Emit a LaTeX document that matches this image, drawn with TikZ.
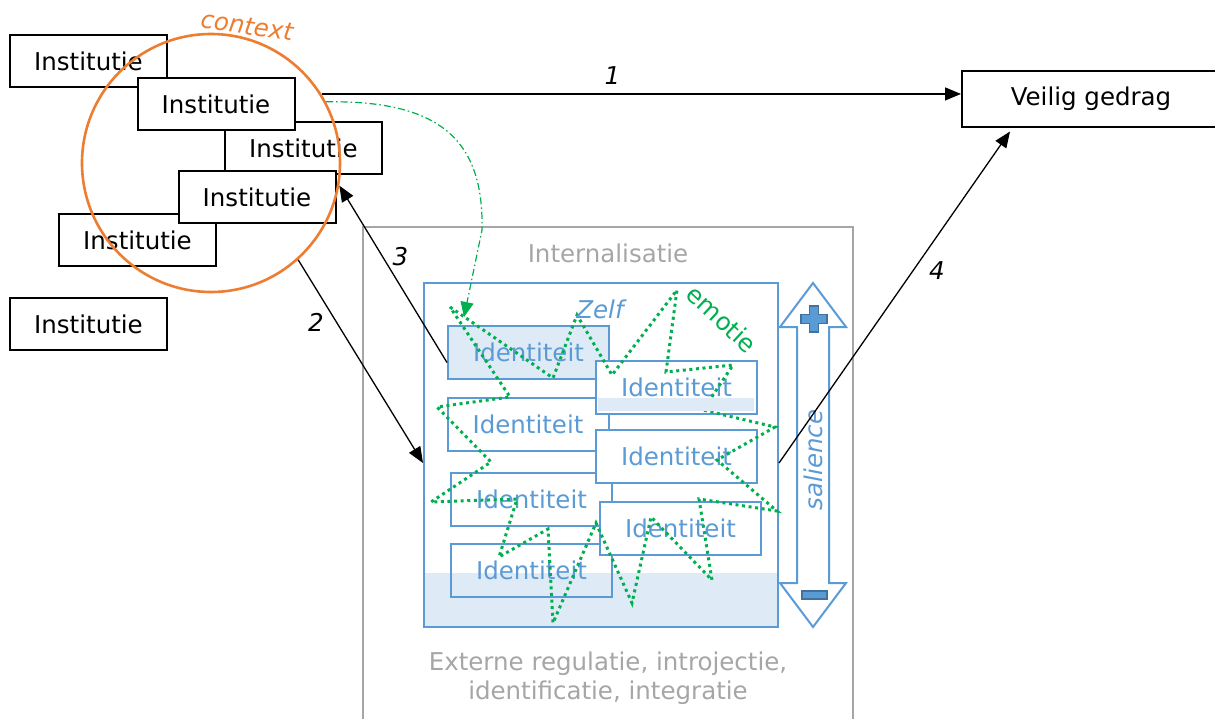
\documentclass[tikz,border=0pt]{standalone}
\usepackage{fontspec}
\setmainfont{DejaVu Sans}
\usetikzlibrary{arrows.meta,calc}

\definecolor{ctxorange}{HTML}{ED7D31}
\definecolor{idblue}{HTML}{5B9BD5}
\definecolor{idfill}{HTML}{DEEBF7}
\definecolor{emogreen}{HTML}{00B050}
\definecolor{intgray}{HTML}{A6A6A6}
\definecolor{signblue}{HTML}{41719C}

\newcommand{\figfont}{\fontsize{24.5}{29}\selectfont}

\tikzset{
  inst/.style={draw=black, line width=2pt, fill=white, minimum width=157pt,
    minimum height=52pt, inner sep=0pt, font=\figfont},
  ident/.style={draw=idblue, line width=2pt, fill=white, text=idblue,
    minimum width=161pt, minimum height=53pt, inner sep=0pt, font=\figfont},
  link/.style={line width=1.3pt, -{Triangle[length=16pt,width=13pt]}},
  emo/.style={emogreen, line width=3pt, dash pattern=on 3pt off 3.6pt},
  num/.style={font=\figfont\itshape},
}

\begin{document}
\begin{tikzpicture}[x=1pt,y=-1pt]
\useasboundingbox[fill=white] (0,0) rectangle (1215,718);

% internalisatie
\node[draw=intgray, line width=2pt, minimum width=490pt, minimum height=520pt,
  inner sep=0pt] (intern) at (608,487) {};
\node[text=intgray, font=\figfont] (internlbl) at (608,253) {Internalisatie};
\node[text=intgray, font=\figfont, align=center] (stages) at (608,678)
  {Externe regulatie, introjectie,\\identificatie, integratie};

% zelf
\fill[idfill] (424,573) rectangle (778,627);
\node[draw=idblue, line width=2pt, minimum width=354pt, minimum height=344pt,
  inner sep=0pt] (zelf) at (601,455) {};

\node[ident, fill=idfill] (id1) at (528.5,352.5) {Identiteit};
\node[ident] (id3) at (528,424.5) {Identiteit};
\node[ident] (id2) at (676.5,387.5) {Identiteit};
\node[ident] (id5) at (531.5,499) {Identiteit};
\node[ident] (id4) at (676.5,456) {Identiteit};
\node[ident, fill=none] (id7) at (531.5,570) {Identiteit};
\node[ident] (id6) at (680.5,528.5) {Identiteit};

% emotie
\draw[emo] (450,307) -- (553,378) -- (577,315) -- (612,375) -- (677,290)
  -- (666,372) -- (733,365) -- (703,410) -- (775,427) -- (717,460)
  -- (777,511) -- (699,499) -- (712,580) -- (651,517) -- (632,603)
  -- (596,523) -- (553,623) -- (548,529) -- (499,557) -- (517,499)
  -- (431,502) -- (491,462) -- (437,407) -- (510,397) -- cycle;
\fill[idfill] (598,398) rectangle (754,411);

\node[text=idblue, font=\figfont\itshape] (zelflbl) at (600,309) {Zelf};
\node[text=emogreen, font=\figfont, rotate=-43] (emolbl) at (722,319) {emotie};

% salience
\draw[idblue, line width=2pt, fill=white] (813,283) -- (846,327) -- (829,327)
  -- (829,583) -- (846,583) -- (813,627) -- (780,583) -- (797,583)
  -- (797,327) -- (780,327) -- cycle;
\draw[signblue, fill=idblue, line width=1.4pt] (809.5,306) -- (818.5,306)
  -- (818.5,314.5) -- (827,314.5) -- (827,323.5) -- (818.5,323.5)
  -- (818.5,332) -- (809.5,332) -- (809.5,323.5) -- (801,323.5)
  -- (801,314.5) -- (809.5,314.5) -- cycle;
\draw[signblue, fill=idblue, line width=1.4pt] (802,591) rectangle (827,599);
\node[text=idblue, font=\figfont\itshape, rotate=90] (sal) at (813,460) {salience};

% instituties
\node[inst] (inst1) at (88.5,61) {Institutie};
\node[inst] (inst3) at (303.5,148) {Institutie};
\node[inst] (inst2) at (216,104) {Institutie};
\node[inst] (inst5) at (137.5,240) {Institutie};
\node[inst] (inst4) at (257,197) {Institutie};
\node[inst] (inst6) at (88.5,324) {Institutie};

\node[inst, minimum width=258pt, minimum height=56pt] (veilig) at (1091,98.5) {Veilig gedrag};

% context
\node[circle, draw=ctxorange, line width=2.6pt, minimum size=258pt, inner sep=0pt]
  (context) at (211,163) {};
\node[text=ctxorange, font=\figfont\itshape, rotate=-8] (ctxlbl) at (247,26) {context};

\draw[emogreen, line width=1.2pt, dash pattern=on 7pt off 3pt on 1.5pt off 3pt,
  -{Triangle[length=15pt,width=13pt]}]
  (context.28) .. controls (440,100) and (484,140) .. (482,230)
  -- ($(id1.north west)+(17,-8)$);

% paden
\draw[link] (context.32) -- (context.32 -| veilig.west)
  node[num, pos=0.455, yshift=18pt] {1};
\draw[link] (context.-48) -- ($(zelf.west)+(0,8)$)
  node[num, pos=0.31, xshift=-21pt] {2};
\draw[link] ($(id1.west)+(0,10)$) -- (context.-10)
  node[num, pos=0.6, xshift=18pt] {3};
\draw[link] ($(zelf.east)+(0,8)$) -- ($(veilig.south west)+(49,4)$)
  node[num, pos=0.58, xshift=24pt] {4};
\end{tikzpicture}
\end{document}
